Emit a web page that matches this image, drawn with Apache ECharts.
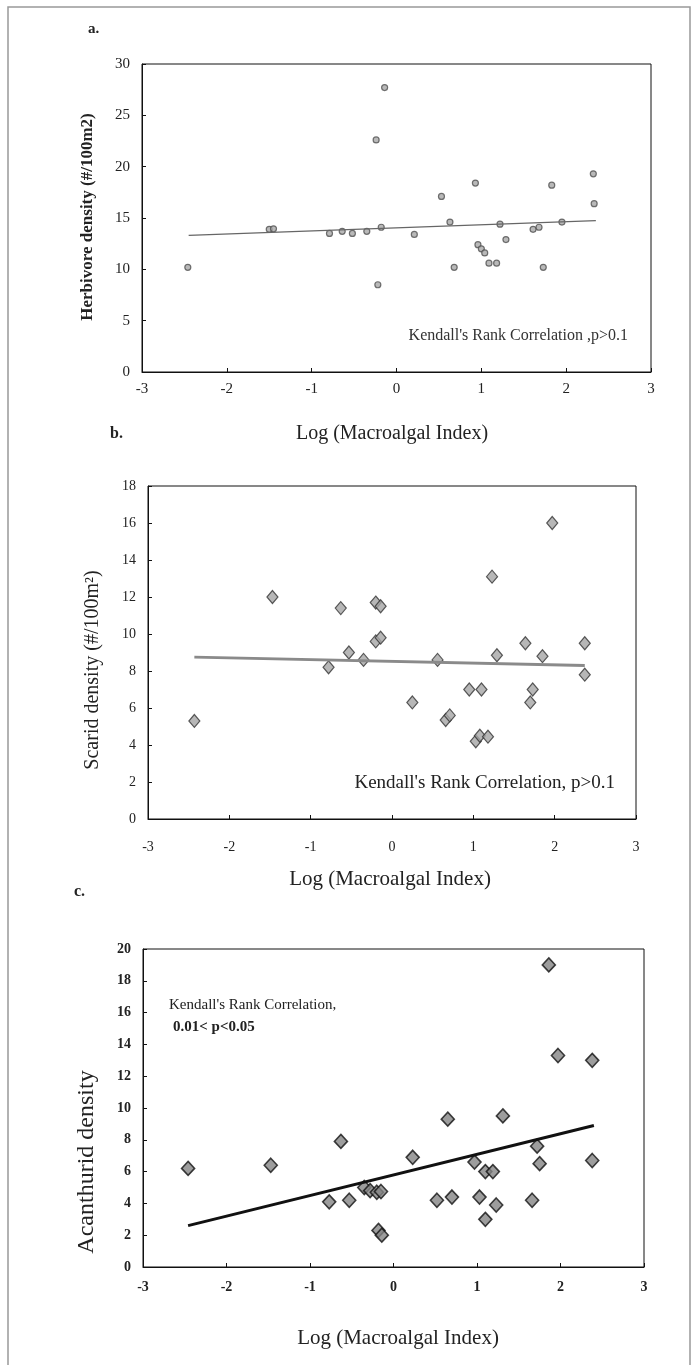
<!DOCTYPE html>
<html><head><meta charset="utf-8">
<style>html,body{margin:0;padding:0;background:#fff}#c{width:696px;height:1365px}</style>
<script src="https://cdn.jsdelivr.net/npm/echarts@6/dist/echarts.min.js"></script>
</head><body><div id="c"></div>
<script>
// ---- data ----
const xTicks = [-3, -2, -1, 0, 1, 2, 3];
const herbivorePoints = [
  [-2.46,10.2],[-1.50,13.9],[-1.45,13.95],[-0.79,13.5],[-0.64,13.7],[-0.52,13.5],[-0.35,13.7],
  [-0.24,22.6],[-0.22,8.5],[-0.18,14.1],[-0.14,27.7],[0.21,13.4],[0.53,17.1],[0.63,14.6],
  [0.68,10.2],[0.93,18.4],[0.96,12.4],[1.00,12.0],[1.04,11.6],[1.09,10.6],[1.18,10.6],
  [1.22,14.4],[1.29,12.9],[1.61,13.9],[1.68,14.1],[1.73,10.2],[1.83,18.2],[1.95,14.6],
  [2.32,19.3],[2.33,16.4]
];
const herbivoreFit = [[-2.45,13.3],[2.35,14.75]];
const scaridPoints = [
  [-2.43,5.3],[-1.47,12.0],[-0.78,8.2],[-0.63,11.4],[-0.53,9.0],[-0.35,8.6],[-0.20,11.7],
  [-0.14,11.5],[-0.20,9.6],[-0.14,9.8],[0.25,6.3],[0.56,8.6],[0.66,5.35],[0.71,5.6],
  [0.95,7.0],[1.03,4.2],[1.10,7.0],[1.08,4.5],[1.18,4.45],[1.23,13.1],[1.29,8.85],
  [1.64,9.5],[1.70,6.3],[1.73,7.0],[1.85,8.8],[1.97,16.0],[2.37,9.5],[2.37,7.8]
];
const scaridFit = [[-2.43,8.75],[2.37,8.3]];
const acanthuridPoints = [
  [-2.46,6.2],[-1.47,6.4],[-0.77,4.1],[-0.63,7.9],[-0.53,4.2],[-0.35,5.0],[-0.28,4.8],
  [-0.20,4.7],[-0.15,4.75],[-0.18,2.3],[-0.14,2.0],[0.23,6.9],[0.52,4.2],[0.65,9.3],
  [0.70,4.4],[0.97,6.6],[1.03,4.4],[1.10,6.0],[1.10,3.0],[1.19,6.0],[1.23,3.9],[1.31,9.5],
  [1.66,4.2],[1.72,7.6],[1.75,6.5],[1.86,19.0],[1.97,13.3],[2.38,13.0],[2.38,6.7]
];
const acanthuridFit = [[-2.46,2.6],[2.40,8.9]];
const yTicksA = [0, 30, 5];
const yTicksB = [0, 18, 2];
const yTicksC = [0, 20, 2];

// ---- chart ----
const serif = 'Liberation Serif';
const grids = [
  {left:142, top:64, width:509, height:308},
  {left:148, top:486, width:488, height:333},
  {left:143, top:949, width:501, height:318}
];
const labelSizes = [15, 14, 14];
const labelMargins = [10, 21, 13];
function xAxis(i){
  return {gridIndex:i, type:'value', min:xTicks[0], max:xTicks[xTicks.length-1], interval:1,
    axisLine:{onZero:false, lineStyle:{color:'#111', width:1}},
    axisTick:{inside:true, length:4, lineStyle:{color:'#111'}},
    splitLine:{show:false},
    axisLabel:{fontFamily:serif, fontSize:labelSizes[i], color:'#222', margin:labelMargins[i],
      fontWeight: i===2 ? 'bold' : 'normal'}};
}
function yAxis(i, t){
  return {gridIndex:i, type:'value', min:t[0], max:t[1], interval:t[2],
    axisLine:{show:true, onZero:false, lineStyle:{color:'#111', width:1}},
    axisTick:{inside:true, length:4, lineStyle:{color:'#111'}},
    splitLine:{show:false},
    axisLabel:{fontFamily:serif, fontSize:labelSizes[i], color:'#222', margin:12,
      fontWeight: i===2 ? 'bold' : 'normal'}};
}
const gridOpts = grids.map(g => Object.assign({show:true, borderColor:'#111', borderWidth:1, backgroundColor:'transparent'}, g));

const option = {
  animation:false,
  backgroundColor:'#fff',
  grid: gridOpts,
  xAxis:[xAxis(0), xAxis(1), xAxis(2)],
  yAxis:[yAxis(0, yTicksA), yAxis(1, yTicksB), yAxis(2, yTicksC)],
  series:[
    {type:'line', xAxisIndex:0, yAxisIndex:0, data:herbivoreFit, symbol:'none',
      lineStyle:{color:'#666', width:1.3}},
    {type:'scatter', xAxisIndex:0, yAxisIndex:0, data:herbivorePoints, symbol:'circle', symbolSize:6,
      itemStyle:{color:'#a8a8a8', borderColor:'#505050', borderWidth:1.2}},
    {type:'line', xAxisIndex:1, yAxisIndex:1, data:scaridFit, symbol:'none',
      lineStyle:{color:'#8a8a8a', width:3}},
    {type:'scatter', xAxisIndex:1, yAxisIndex:1, data:scaridPoints, symbol:'diamond', symbolSize:[11,13],
      itemStyle:{color:'#a5a5a5', borderColor:'#333', borderWidth:1.2}},
    {type:'line', xAxisIndex:2, yAxisIndex:2, data:acanthuridFit, symbol:'none',
      lineStyle:{color:'#111', width:3}},
    {type:'scatter', xAxisIndex:2, yAxisIndex:2, data:acanthuridPoints, symbol:'diamond', symbolSize:[13,14],
      itemStyle:{color:'#858585', borderColor:'#111', borderWidth:1.6}}
  ],
  graphic:[
    {type:'polyline', shape:{points:[[8,1365],[8,7],[690,7],[690,1365]]}, style:{stroke:'#999', lineWidth:1.5, fill:null}},
    {type:'text', left:88, top:22, style:{text:'a.', font:'bold 15px "Liberation Serif"', fill:'#222'}},
    {type:'text', left:110, top:426, style:{text:'b.', font:'bold 16px "Liberation Serif"', fill:'#222'}},
    {type:'text', left:74, top:884, style:{text:'c.', font:'bold 16px "Liberation Serif"', fill:'#222'}},
    // y titles
    {type:'text', x:88, y:217, rotation:Math.PI/2, style:{text:'Herbivore density (#/100m2)', font:'bold 17px "Liberation Serif"', fill:'#222', align:'center', verticalAlign:'middle'}},
    {type:'text', x:93, y:670, rotation:Math.PI/2, style:{text:'Scarid density (#/100m\u00B2)', font:'20px "Liberation Serif"', fill:'#222', align:'center', verticalAlign:'middle'}},
    {type:'text', x:87, y:1162, rotation:Math.PI/2, style:{text:'Acanthurid density', font:'24px "Liberation Serif"', fill:'#222', align:'center', verticalAlign:'middle'}},
    // x titles
    {type:'text', x:392, y:434, style:{text:'Log (Macroalgal Index)', font:'20px "Liberation Serif"', fill:'#222', align:'center', verticalAlign:'middle'}},
    {type:'text', x:390, y:879, style:{text:'Log (Macroalgal Index)', font:'21px "Liberation Serif"', fill:'#222', align:'center', verticalAlign:'middle'}},
    {type:'text', x:398, y:1338, style:{text:'Log (Macroalgal Index)', font:'21px "Liberation Serif"', fill:'#222', align:'center', verticalAlign:'middle'}},
    // annotations
    {type:'text', x:628, y:336, style:{text:"Kendall's Rank Correlation ,p>0.1", font:'16px "Liberation Serif"', fill:'#333', align:'right', verticalAlign:'middle'}},
    {type:'text', x:615, y:783, style:{text:"Kendall's Rank Correlation, p>0.1", font:'19px "Liberation Serif"', fill:'#222', align:'right', verticalAlign:'middle'}},
    {type:'text', x:169, y:1005, style:{text:"Kendall's Rank Correlation,", font:'15px "Liberation Serif"', fill:'#222', align:'left', verticalAlign:'middle'}},
    {type:'text', x:173, y:1027, style:{text:"0.01< p<0.05", font:'bold 15px "Liberation Serif"', fill:'#222', align:'left', verticalAlign:'middle'}}
  ]
};
const chart = echarts.init(document.getElementById('c'), null, {renderer:'canvas'});
chart.setOption(option);
</script></body></html>
